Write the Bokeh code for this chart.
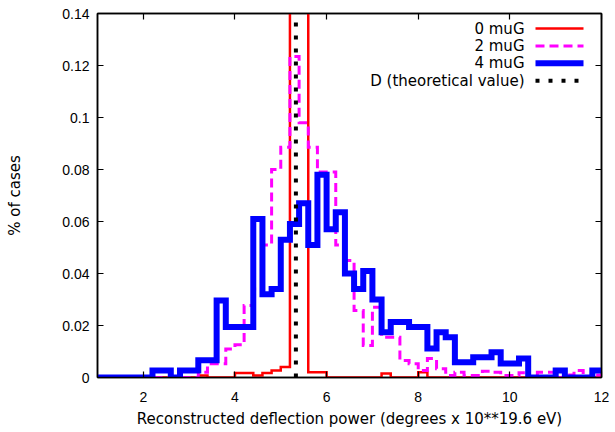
from bokeh.plotting import figure
from bokeh.models import (LinearAxis, FixedTicker, Range1d, Arrow, Label,
                          CustomJSTickFormatter, CustomLabelingPolicy)
from bokeh.embed import file_html
from bokeh.resources import INLINE

# ---------------- data ----------------
bin_edges = [1.0, 1.2, 1.4, 1.6, 1.8, 2.0, 2.2, 2.4, 2.6, 2.8,
             3.0, 3.2, 3.4, 3.6, 3.8, 4.0, 4.2, 4.4, 4.6, 4.8,
             5.0, 5.2, 5.4, 5.6, 5.8, 6.0, 6.2, 6.4, 6.6, 6.8,
             7.0, 7.2, 7.4, 7.6, 7.8, 8.0, 8.2, 8.4, 8.6, 8.8,
             9.0, 9.2, 9.4, 9.6, 9.8, 10.0, 10.2, 10.4, 10.6, 10.8,
             11.0, 11.2, 11.4, 11.6, 11.8, 12.0]

cases_0muG = [0, 0, 0, 0, 0, 0, 0, 0, 0, 0,
              0, 0.0008, 0, 0, 0, 0.0017, 0.0017, 0.0008, 0.0017, 0.0027,
              0.004, 0.45, 0.45, 0.002, 0.002, 0, 0, 0, 0, 0,
              0, 0.0015, 0, 0, 0, 0.002, 0, 0, 0, 0,
              0, 0, 0, 0, 0, 0, 0, 0, 0, 0,
              0, 0, 0, 0, 0]

cases_2muG = [0, 0, 0, 0, 0, 0, 0, 0, 0, 0,
              0, 0.002, 0.0053, 0.0053, 0.011, 0.0126, 0.0277, 0.034, 0.051, 0.080,
              0.0886, 0.1235, 0.098, 0.0886, 0.079, 0.079, 0.051, 0.045, 0.0258, 0.0123,
              0.027, 0.0155, 0.0155, 0.0065, 0.0053, 0.0027, 0.0073, 0.0034, 0.0008, 0.002,
              0.0008, 0.0008, 0.0024, 0.002, 0.0008, 0.0008, 0.0018, 0, 0.002, 0.002,
              0, 0.001, 0.0027, 0, 0.001]

cases_4muG = [0, 0, 0, 0, 0, 0, 0.0027, 0.0027, 0, 0.0027,
              0.0027, 0.0066, 0.0066, 0.0296, 0.0194, 0.0194, 0.0194, 0.061, 0.032, 0.034,
              0.053, 0.059, 0.067, 0.051, 0.078, 0.057, 0.0636, 0.040, 0.034, 0.041,
              0.030, 0.0174, 0.0213, 0.0213, 0.0194, 0.0194, 0.0112, 0.0174, 0.0155, 0.0059,
              0.0059, 0.0078, 0.0078, 0.0097, 0.0054, 0.0054, 0.0073, 0, 0, 0,
              0.0027, 0, 0, 0, 0.0027]

D_theoretical = 5.33

series_names = ["0 muG", "2 muG", "4 muG", "D (theoretical value)"]
x_ticks = [2, 4, 6, 8, 10, 12]
y_ticks = [0, 0.02, 0.04, 0.06, 0.08, 0.10, 0.12, 0.14]
x_min, x_max = 1, 12
y_min, y_max = 0, 0.14

# ---------------- styling ----------------
TICK_FONT = "Liberation Sans"
TICK_FS = "14px"
FONT = "DejaVu Sans"
FS = "15px"
W, H = 615, 432
LEFT, RIGHT, TOP, BOTTOM = 97, 14, 13, 55

p = figure(width=W, height=H, output_backend="svg", toolbar_location=None,
           x_range=Range1d(x_min, x_max), y_range=Range1d(y_min, y_max),
           min_border_left=LEFT, min_border_right=RIGHT,
           min_border_top=TOP, min_border_bottom=BOTTOM)
p.background_fill_color = "white"
p.border_fill_color = "white"
p.xgrid.visible = False
p.ygrid.visible = False
p.outline_line_color = "black"
p.outline_line_width = 1.5

fmt = CustomJSTickFormatter(code="""
    var s = tick.toFixed(2);
    s = s.replace(/0+$/, '').replace(/\\.$/, '');
    return s;
""")

no_labels = CustomLabelingPolicy(code="""
    for (const i of Array.from(indices)) { indices.unset(i) }
    return indices
""")

def style_axis(ax, ticks, labels=True):
    ax.ticker = FixedTicker(ticks=ticks)
    ax.major_tick_in = 6
    ax.major_tick_out = 0
    ax.minor_tick_line_color = None
    ax.axis_line_color = "black"
    ax.axis_line_width = 1.5
    ax.major_tick_line_color = "black"
    ax.major_tick_line_width = 1.2
    ax.major_label_text_font = TICK_FONT
    ax.major_label_text_font_size = TICK_FS
    ax.major_label_text_color = "black"
    ax.axis_label_text_font = FONT
    ax.axis_label_text_font_size = FS
    ax.axis_label_text_font_style = "normal"
    ax.axis_label_text_color = "black"
    if not labels:
        # mirror axis: ticks only, no labels and no reserved label space
        ax.major_label_text_font_size = "1px"
        ax.major_label_standoff = 0
        ax.major_label_policy = no_labels

xa = p.xaxis[0]
ya = p.yaxis[0]
style_axis(xa, x_ticks)
style_axis(ya, y_ticks)
ya.formatter = fmt
xa.axis_label = "Reconstructed deflection power (degrees x 10**19.6 eV)"
ya.axis_label = "% of cases"
xa.major_label_standoff = 14
xa.axis_label_standoff = 5
ya.major_label_standoff = 8
ya.axis_label_standoff = 35

ax_r = LinearAxis()
style_axis(ax_r, y_ticks, labels=False)
p.add_layout(ax_r, "right")
ax_t = LinearAxis()
style_axis(ax_t, x_ticks, labels=False)
p.add_layout(ax_t, "above")

# ---------------- histograms ----------------
styles = [
    dict(line_color="#ff0000", line_width=2.5, line_dash="solid"),
    dict(line_color="#ff00ff", line_width=3, line_dash="9 5"),
    dict(line_color="#0000ff", line_width=6, line_dash="solid"),
    dict(line_color="black", line_width=4, line_dash="4 9"),
]
for vals, st in zip([cases_0muG, cases_2muG, cases_4muG], styles[:3]):
    p.step(x=bin_edges, y=vals + [vals[-1]], mode="after", line_join="miter", **st)
p.segment(x0=[D_theoretical], y0=[y_min], x1=[D_theoretical], y1=[y_max], **styles[3])

# ---------------- key (gnuplot style: text right-aligned, sample at right) ----
frame_w = W - LEFT - RIGHT
frame_h = H - TOP - BOTTOM
sample_x0 = frame_w - 66
sample_x1 = frame_w - 18
text_right = sample_x0 - 11
row_top = frame_h - 15
row_step = 17.4
for k, (name, st) in enumerate(zip(series_names, styles)):
    yy = row_top - row_step * k
    p.add_layout(Arrow(x_start=sample_x0, y_start=yy, x_end=sample_x1, y_end=yy,
                       start_units="screen", end_units="screen",
                       start=None, end=None, **st))
    p.add_layout(Label(x=text_right, y=yy, x_units="screen", y_units="screen",
                       text=name, text_align="right", text_baseline="middle",
                       text_font=FONT, text_font_size=FS, text_color="black"))

open("out.html", "w").write(file_html(p, INLINE))
